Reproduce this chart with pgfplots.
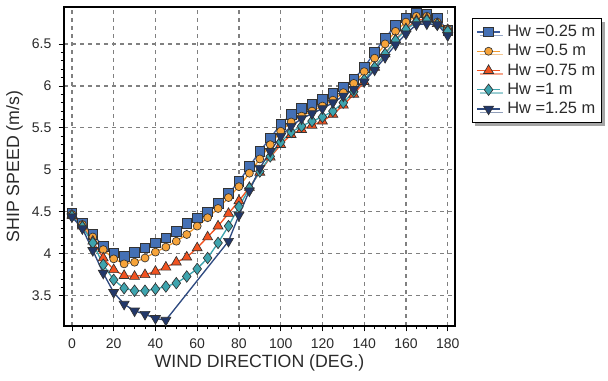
\documentclass[border=0pt]{standalone}
\usepackage{fontspec}
\setmainfont{Liberation Sans}
\usepackage{pgfplots}
\usepackage{pgfplotstable}
\pgfplotsset{compat=1.18}
\usetikzlibrary{shadows}
\definecolor{cA}{HTML}{4470B5}
\definecolor{cAl}{HTML}{3B5C9E}
\definecolor{cB}{HTML}{F7A43A}
\definecolor{cBl}{HTML}{F29A2E}
\definecolor{cC}{HTML}{F25320}
\definecolor{cD}{HTML}{3EA4AE}
\definecolor{cE}{HTML}{22386A}
\definecolor{cEl}{HTML}{2E4A80}
\definecolor{txt}{HTML}{2A2A2A}

\pgfplotstableread{
x y
0 4.48
5 4.37
10 4.23
15 4.09
20 4.01
25 3.97
30 4.02
35 4.07
40 4.13
45 4.19
50 4.27
55 4.36
60 4.43
65 4.50
70 4.60
75 4.72
80 4.86
85 5.04
90 5.22
95 5.38
100 5.54
105 5.66
110 5.73
115 5.78
120 5.84
125 5.91
130 5.99
135 6.08
140 6.22
145 6.40
150 6.57
155 6.72
160 6.81
165 6.87
170 6.85
175 6.81
180 6.66
}\tA

\pgfplotstableread{
x y
0 4.47
5 4.35
10 4.20
15 4.05
20 3.94
25 3.88
30 3.90
35 3.95
40 4.02
45 4.08
50 4.15
55 4.23
60 4.33
65 4.43
70 4.54
75 4.67
80 4.80
85 4.96
90 5.13
95 5.30
100 5.46
105 5.57
110 5.64
115 5.70
120 5.76
125 5.83
130 5.92
135 6.03
140 6.17
145 6.33
150 6.50
155 6.65
160 6.76
165 6.83
170 6.83
175 6.76
180 6.68
}\tB

\pgfplotstableread{
x y
0 4.46
5 4.33
10 4.15
15 3.95
20 3.81
25 3.74
30 3.73
35 3.75
40 3.79
45 3.84
50 3.90
55 3.96
60 4.07
65 4.20
70 4.33
75 4.48
80 4.63
85 4.79
90 4.97
95 5.15
100 5.30
105 5.42
110 5.48
115 5.53
120 5.58
125 5.66
130 5.77
135 5.90
140 6.05
145 6.22
150 6.38
155 6.55
160 6.68
165 6.78
170 6.80
175 6.74
180 6.67
}\tC

\pgfplotstableread{
x y
0 4.45
5 4.32
10 4.13
15 3.87
20 3.69
25 3.59
30 3.56
35 3.56
40 3.58
45 3.61
50 3.65
55 3.73
60 3.82
65 3.95
70 4.13
75 4.33
80 4.56
85 4.78
90 4.98
95 5.16
100 5.33
105 5.45
110 5.52
115 5.58
120 5.63
125 5.70
130 5.80
135 5.93
140 6.07
145 6.22
150 6.38
155 6.54
160 6.67
165 6.76
170 6.78
175 6.73
180 6.65
}\tD

\pgfplotstableread{
x y
0 4.44
5 4.30
10 4.04
15 3.77
20 3.54
25 3.40
30 3.32
35 3.28
40 3.23
45 3.21
75 4.15
80 4.46
85 4.75
90 5.02
95 5.22
100 5.40
105 5.52
110 5.61
115 5.67
120 5.73
125 5.80
130 5.88
135 5.96
140 6.05
145 6.19
150 6.34
155 6.49
160 6.62
165 6.73
170 6.74
175 6.73
180 6.60
}\tE

\begin{document}
\begin{tikzpicture}
\useasboundingbox (0,0) rectangle (456pt,285.75pt);
\begin{axis}[
  at={(48pt,41.25pt)}, anchor=south west,
  scale only axis, width=293.25pt, height=239.25pt,
  xmin=-3.8, xmax=183.5, ymin=3.14, ymax=6.94,
  xtick={0,20,...,180}, ytick={3.5,4,4.5,5,5.5,6,6.5},
  minor x tick num=3, minor y tick num=4,
  tick pos=left, tick align=outside,
  major tick length=4pt, minor tick length=2.5pt,
  tick style={black, line width=0.6pt},
  grid=major,
  major grid style={black!50, dash pattern=on 3pt off 3pt, line width=0.9pt},
  axis line style={black, line width=1.5pt},
  /pgf/number format/assume math mode=true,
  ticklabel style={font=\fontsize{10.5}{12}\selectfont, text=txt},
  xticklabel style={yshift=-2pt},
  yticklabel style={xshift=-2pt},
  label style={font=\fontsize{13.3}{15}\selectfont, text=txt},
  xlabel={WIND DIRECTION (DEG.)}, ylabel={SHIP SPEED (m/s)},
  xlabel style={yshift=2pt},
  legend style={at={(1,1)}, anchor=north west, xshift=12.75pt, yshift=-8.25pt,
    draw=black, line width=0.8pt, fill=white, text=txt,
    font=\fontsize{12.3}{14.4}\selectfont, row sep=0.4pt, column sep=3pt,
    inner xsep=3pt, inner ysep=3pt,
    drop shadow={shadow xshift=2pt, shadow yshift=-2.5pt, fill=black!70}},
  legend cell align=left,
]
\addplot[cAl, line width=1pt, mark=square*, mark size=3.6pt,
  mark options={solid, fill=cA, draw=black!80, line width=0.5pt}] table[x=x,y=y]{\tA};
\addlegendentry{Hw =0.25 m}
\addplot[cBl, line width=1pt, mark=*, mark size=3pt,
  mark options={solid, fill=cB, draw=black!80, line width=0.5pt}] table[x=x,y=y]{\tB};
\addlegendentry{Hw =0.5 m}
\addplot[cC, line width=1pt, mark=triangle*, mark size=4.3pt,
  mark options={solid, fill=cC, draw=black!80, line width=0.5pt}] table[x=x,y=y]{\tC};
\addlegendentry{Hw =0.75 m}
\addplot[cD, line width=1pt, mark=diamond*, mark size=4.3pt,
  mark options={solid, fill=cD, draw=black!80, line width=0.5pt}] table[x=x,y=y]{\tD};
\addlegendentry{Hw =1 m}
\addplot[cEl, line width=1pt, mark=triangle*, mark size=4.3pt,
  mark options={solid, fill=cE, draw=black!80, line width=0.5pt, rotate=180}] table[x=x,y=y]{\tE};
\addlegendentry{Hw =1.25 m}
\end{axis}
\end{tikzpicture}
\end{document}
